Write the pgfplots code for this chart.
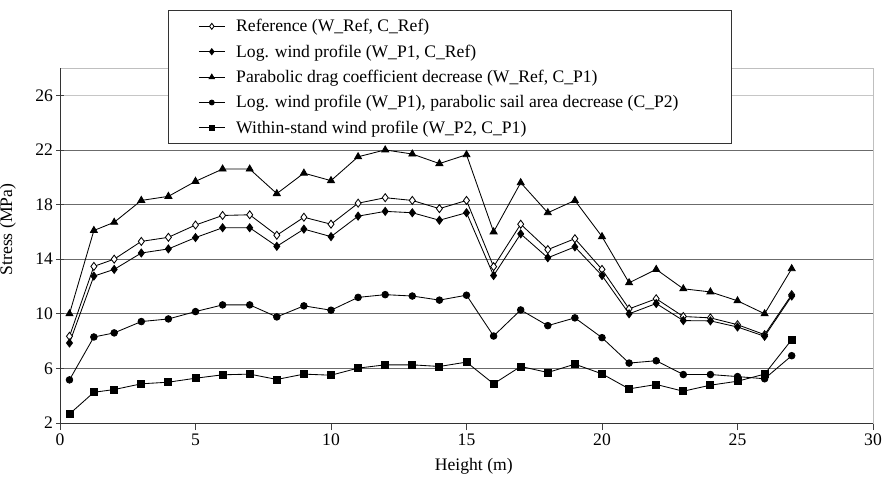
\documentclass[border=0pt]{standalone}
\usepackage{pgfplots}
\usepackage{pgfplotstable}
\pgfplotsset{compat=1.18}
\usepackage{fontspec}
\setmainfont{Liberation Serif}
\pgfplotstableread{
x     ref    logw   para   logc   within
0.35  8.35   7.86   10.0   5.16   2.66
1.25  13.47  12.76  16.1   8.30   4.25
2     14.0   13.25  16.7   8.60   4.45
3     15.3   14.45  18.3   9.43   4.87
4     15.6   14.75  18.6   9.62   4.99
5     16.5   15.58  19.7   10.16  5.28
6     17.2   16.3   20.6   10.65  5.53
7     17.25  16.3   20.6   10.65  5.58
8     15.75  14.94  18.8   9.77   5.19
9     17.07  16.2   20.3   10.58  5.58
10    16.56  15.65  19.75  10.26  5.50
11    18.1   17.15  21.5   11.2   6.02
12    18.5   17.5   22.0   11.4   6.26
13    18.3   17.4   21.7   11.3   6.26
14    17.7   16.85  21.0   11.0   6.14
15    18.3   17.4   21.65  11.36  6.46
16    13.45  12.8   16.0   8.37   4.87
17    16.56  15.85  19.6   10.28  6.14
18    14.7   14.1   17.4   9.13   5.70
19    15.5   14.9   18.3   9.70   6.31
20    13.25  12.8   15.65  8.25   5.60
21    10.36  10.0   12.27  6.39   4.50
22    11.1   10.75  13.25  6.56   4.82
23    9.8    9.5    11.83  5.55   4.33
24    9.7    9.48   11.6   5.55   4.77
25    9.2    9.03   10.95  5.40   5.06
26    8.47   8.35   10.0   5.24   5.58
27    11.4   11.3   13.3   6.93   8.10
}\data
\begin{document}
\begin{tikzpicture}
\path[use as bounding box] (-60pt,-65pt) rectangle (826pt,423pt);
\begin{axis}[
  at={(0pt,0pt)}, anchor=south west,
  scale only axis, width=813pt, height=355pt,
  xmin=0, xmax=30, ymin=2, ymax=28,
  xtick={0,5,...,30}, ytick={2,6,...,22},
  extra y ticks={26},
  extra y tick style={grid style={gray!45, line width=0.8pt}},
  ymajorgrids,
  grid style={black!58, line width=0.8pt},
  axis line style={gray!50, line width=0.8pt},
  xtick pos=bottom, ytick pos=left,
  xtick align=outside, ytick align=center,
  major tick length=7pt,
  tick style={black!75, line width=0.8pt},
  font=\fontsize{17.6}{21}\selectfont,
  ticklabel style={font=\fontsize{17.6}{21}\selectfont},
  /pgf/number format/assume math mode=true,
  xlabel={Height (m)},
  ylabel={Stress (MPa)},
  xlabel style={at={(axis description cs:0.509,-0.1352)}, anchor=base},
  ylabel style={at={(axis description cs:-0.064,0.545)}, anchor=center},
  every axis plot/.append style={black, line width=0.85pt},
  legend image code/.code={\draw[mark repeat=2,mark phase=2,#1,every mark/.append style={scale=0.75}] plot coordinates {(0pt,0pt) (13pt,0pt) (26pt,0pt)};},
  legend style={at={(axis description cs:0.1328,1.1634)}, anchor=north west,
    draw=black!80, line width=0.8pt, fill=white,
    inner xsep=30pt, inner ysep=7pt, row sep=7.5pt, column sep=9pt,
    cells={anchor=west},
    font=\fontsize{17.6}{21}\selectfont},
]
\addplot[mark=diamond*, mark size=4pt, mark options={fill=white}] table[x=x,y=ref] {\data};
\addlegendentry{Reference (W\_Ref, C\_Ref)}
\addplot[mark=diamond*, mark size=4pt, mark options={fill=black}] table[x=x,y=logw] {\data};
\addlegendentry{Log. wind profile (W\_P1, C\_Ref)}
\addplot[mark=triangle*, mark size=4pt, mark options={fill=black}] table[x=x,y=para] {\data};
\addlegendentry{Parabolic drag coefficient decrease (W\_Ref, C\_P1)}
\addplot[mark=*, mark size=3.3pt, mark options={fill=black}] table[x=x,y=logc] {\data};
\addlegendentry{Log. wind profile (W\_P1), parabolic sail area decrease (C\_P2)\rule{21pt}{0pt}}
\addplot[mark=square*, mark size=3.5pt, mark options={fill=black}] table[x=x,y=within] {\data};
\addlegendentry{Within-stand wind profile (W\_P2, C\_P1)}
\draw[black!80, line width=0.9pt] (rel axis cs:0,1) -- (rel axis cs:0,0) -- (rel axis cs:1,0);
\end{axis}
\end{tikzpicture}
\end{document}
